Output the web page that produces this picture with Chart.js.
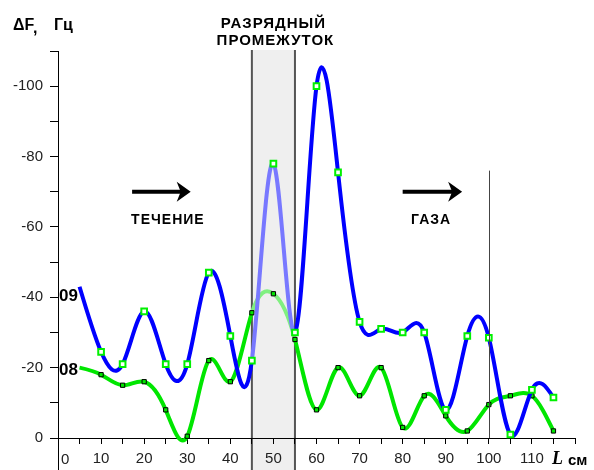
<!DOCTYPE html>
<html>
<head>
<meta charset="utf-8">
<script src="https://cdn.jsdelivr.net/npm/chart.js@4/dist/chart.umd.min.js"></script>
<style>
  html, body { margin: 0; padding: 0; background: #fff; }
  canvas { display: block; }
</style>
</head>
<body>
<canvas id="c" width="594" height="470"></canvas>
<script>
// Distance along the tube, cm
const positions = [5, 10, 15, 20, 25, 30, 35, 40, 45, 50, 55, 60, 65, 70, 75, 80, 85, 90, 95, 100, 105, 110, 115];
// Frequency shift ΔF, Hz, for runs 09 and 08
const run09 = [-43, -24.5, -21, -36, -21, -21, -47, -29, -22, -78, -30, -100, -75.5, -33, -31, -30, -30, -8, -29, -28.5, -1, -13.7, -11.5];
const run08 = [-20, -18, -15, -16, -8, -0.5, -22, -16, -35.6, -41, -28, -8, -20, -12, -20, -3, -12, -6.3, -2, -9.5, -12, -12, -2];
const seriesNames = ['09', '08'];
// Discharge gap and the end marker on the distance axis
const gapRange = [45, 55];
const endMarker = 100;
const xTickLabels = [10, 20, 30, 40, 50, 60, 70, 80, 90, 100, 110];
const yTickLabels = [-100, -80, -60, -40, -20, 0];

const FONT = '"Liberation Sans", Arial, sans-serif';
const BLUE = '#0000ff', BLUE_LIGHT = '#7878ff';
const GREEN = '#00e600', GREEN_LIGHT = '#80f080';

const toPoints = vals => vals.map((v, i) => ({ x: positions[i], y: v }));
const inGap = ctx => ctx.p0.parsed.x >= gapRange[0] && ctx.p1.parsed.x <= gapRange[1];
// the first point of each run is the curve start, drawn without a marker
const radii = (r) => positions.map((p, i) => i === 0 ? 0 : r);

// Slopes of a natural cubic spline y(x) through the given knots
function naturalSlopes(xs, ys) {
  const n = xs.length;
  const h = [];
  for (let i = 0; i < n - 1; i++) h.push(xs[i + 1] - xs[i]);
  const M = new Array(n).fill(0);
  const a = [], b = [], c = [], d = [];
  for (let i = 1; i < n - 1; i++) {
    a.push(h[i - 1]);
    b.push(2 * (h[i - 1] + h[i]));
    c.push(h[i]);
    d.push(6 * ((ys[i + 1] - ys[i]) / h[i] - (ys[i] - ys[i - 1]) / h[i - 1]));
  }
  const m = b.length;
  for (let i = 1; i < m; i++) {
    const w = a[i] / b[i - 1];
    b[i] -= w * c[i - 1];
    d[i] -= w * d[i - 1];
  }
  const sol = new Array(m).fill(0);
  for (let i = m - 1; i >= 0; i--) sol[i] = (d[i] - (i < m - 1 ? c[i] * sol[i + 1] : 0)) / b[i];
  for (let i = 0; i < m; i++) M[i + 1] = sol[i];
  const slopes = [];
  for (let i = 0; i < n; i++) {
    if (i < n - 1) slopes.push((ys[i + 1] - ys[i]) / h[i] - h[i] * (2 * M[i] + M[i + 1]) / 6);
    else slopes.push((ys[i] - ys[i - 1]) / h[i - 1] + h[i - 1] * (M[i - 1] + 2 * M[i]) / 6);
  }
  return slopes;
}

// Replace the line's Bézier control points with those of a natural spline
const naturalSpline = {
  id: 'naturalSpline',
  beforeDatasetDraw(chart, args) {
    const meta = args.meta;
    const line = meta.dataset;
    const pts = meta.data;
    if (!line || pts.length < 3) return;
    line.updateControlPoints(chart.chartArea, 'x');
    const xs = pts.map(p => p.parsed ? p.parsed.x : null);
    const data = chart.data.datasets[args.index].data;
    const X = data.map(d => d.x), Y = data.map(d => d.y);
    const s = naturalSlopes(X, Y);
    const sx = chart.scales.x, sy = chart.scales.y;
    for (let i = 0; i < pts.length; i++) {
      const p = pts[i];
      if (i > 0) {
        const hp = (X[i] - X[i - 1]) / 3;
        p.cp1x = sx.getPixelForValue(X[i] - hp);
        p.cp1y = sy.getPixelForValue(Y[i] - s[i] * hp);
      }
      if (i < pts.length - 1) {
        const hn = (X[i + 1] - X[i]) / 3;
        p.cp2x = sx.getPixelForValue(X[i] + hn);
        p.cp2y = sy.getPixelForValue(Y[i] + s[i] * hn);
      }
    }
  }
};

const decor = {
  id: 'decor',
  beforeDraw(chart) {
    const { ctx, chartArea: a, scales: { x } } = chart;
    ctx.save();
    ctx.fillStyle = '#fff';
    ctx.fillRect(0, 0, chart.width, chart.height);
    const x0 = x.getPixelForValue(gapRange[0]);
    const x1 = x.getPixelForValue(gapRange[1]);
    ctx.fillStyle = '#efefef';
    ctx.fillRect(x0, a.top - 1, x1 - x0, chart.height - a.top + 1);
    ctx.strokeStyle = '#555';
    ctx.lineWidth = 2;
    ctx.beginPath();
    ctx.moveTo(x0, a.top - 1); ctx.lineTo(x0, chart.height);
    ctx.moveTo(x1, a.top - 1); ctx.lineTo(x1, chart.height);
    ctx.stroke();
    ctx.restore();
  },
  afterDraw(chart) {
    const { ctx, chartArea: a, scales: { x, y } } = chart;
    ctx.save();
    // axis extensions
    ctx.strokeStyle = '#000';
    ctx.lineWidth = 1;
    ctx.beginPath();
    ctx.moveTo(a.left + 0.5, a.bottom); ctx.lineTo(a.left + 0.5, chart.height);
    ctx.moveTo(a.left - 8, a.bottom + 0.5); ctx.lineTo(a.left, a.bottom + 0.5);
    ctx.stroke();
    // end marker line
    const xe = Math.round(x.getPixelForValue(endMarker)) + 0.5;
    ctx.strokeStyle = '#444';
    ctx.beginPath();
    ctx.moveTo(xe, y.getPixelForValue(-76)); ctx.lineTo(xe, a.bottom);
    ctx.stroke();

    // first x label sits just right of the axis
    ctx.fillStyle = '#222';
    ctx.font = '15px ' + FONT;
    ctx.textAlign = 'left';
    ctx.textBaseline = 'middle';
    ctx.fillText('0', x.getPixelForValue(0) + 3, 460);
    // axis names
    ctx.font = 'bold italic 18px "Liberation Serif", serif';
    ctx.fillStyle = '#000';
    ctx.fillText('L', 552, 459);
    ctx.font = 'bold 15px ' + FONT;
    ctx.fillText('см', 568, 461);
    ctx.font = 'bold 16px ' + FONT;
    ctx.textBaseline = 'alphabetic';
    ctx.fillText('ΔF', 13, 30);
    ctx.fillText(',', 33, 33);
    ctx.fillText('Гц', 54, 30);

    // run names at the curve starts
    ctx.font = 'bold 17px ' + FONT;
    ctx.textBaseline = 'middle';
    ctx.fillText(seriesNames[0], 59, y.getPixelForValue(-40.5) + 1);
    ctx.fillText(seriesNames[1], 59, y.getPixelForValue(-19.5) + 1);

    // gap caption
    ctx.font = 'bold 15px ' + FONT;
    ctx.letterSpacing = '1px';
    ctx.textAlign = 'center';
    const xc = (x.getPixelForValue(gapRange[0]) + x.getPixelForValue(gapRange[1])) / 2;
    ctx.fillText('РАЗРЯДНЫЙ', xc, 24);
    ctx.fillText('ПРОМЕЖУТОК', xc + 2, 41);

    // flow arrows and captions
    const arrow = (xa, xb, yv) => {
      const x0 = x.getPixelForValue(xa), x1 = x.getPixelForValue(xb), yy = y.getPixelForValue(yv);
      ctx.lineWidth = 4;
      ctx.strokeStyle = '#000';
      ctx.beginPath();
      ctx.moveTo(x0, yy); ctx.lineTo(x1 - 8, yy);
      ctx.stroke();
      ctx.beginPath();
      ctx.moveTo(x1, yy);
      ctx.lineTo(x1 - 14, yy - 10);
      ctx.lineTo(x1 - 10, yy);
      ctx.lineTo(x1 - 14, yy + 10);
      ctx.closePath();
      ctx.fill();
    };
    arrow(17.2, 30.8, -70);
    arrow(80, 93.8, -70);
    ctx.font = 'bold 14px ' + FONT;
    ctx.letterSpacing = '1px';
    ctx.fillText('ТЕЧЕНИЕ', x.getPixelForValue(25.5), y.getPixelForValue(-62));
    ctx.fillText('ГАЗА', x.getPixelForValue(86.6), y.getPixelForValue(-62));
    ctx.restore();
  }
};

new Chart(document.getElementById('c'), {
  type: 'line',
  data: {
    datasets: [
      {
        label: seriesNames[0],
        data: toPoints(run09),
        borderColor: BLUE,
        borderWidth: 4,
        tension: 0.4,
        pointStyle: 'rect',
        pointRadius: radii(4),
        pointBackgroundColor: '#fff',
        pointBorderColor: '#00f000',
        pointBorderWidth: 2,
        segment: { borderColor: c => inGap(c) ? BLUE_LIGHT : undefined },
        clip: false
      },
      {
        label: seriesNames[1],
        data: toPoints(run08),
        borderColor: GREEN,
        borderWidth: 4,
        tension: 0.4,
        pointStyle: 'rect',
        pointRadius: radii(3),
        pointBackgroundColor: GREEN,
        pointBorderColor: '#000',
        pointBorderWidth: 1,
        segment: { borderColor: c => inGap(c) ? GREEN_LIGHT : undefined },
        clip: false
      }
    ]
  },
  options: {
    responsive: false,
    animation: false,
    events: [],
    elements: { line: { capBezierPoints: false } },
    layout: { padding: { top: 51, right: 19, left: 0, bottom: 0 } },
    plugins: { legend: { display: false }, tooltip: { enabled: false } },
    scales: {
      x: {
        type: 'linear', min: 0, max: 120,
        afterFit: s => { s.height = 32; },
        ticks: {
          stepSize: 5, autoSkip: false, maxRotation: 0,
          callback: v => xTickLabels.includes(v) ? String(v) : '',
          font: { family: FONT, size: 15 }, color: '#222', padding: 6
        },
        grid: { drawOnChartArea: false, drawTicks: true, tickLength: 6, color: '#000' },
        border: { color: '#000', width: 1 }
      },
      y: {
        type: 'linear', min: -110, max: 0, reverse: true,
        afterFit: s => { s.width = 58; },
        ticks: {
          stepSize: 10, autoSkip: false,
          callback: v => yTickLabels.includes(v) ? String(v) : '',
          font: { family: FONT, size: 15 }, color: '#222', padding: 7
        },
        grid: { drawOnChartArea: false, drawTicks: true, tickLength: 8, color: '#000' },
        border: { color: '#000', width: 1 }
      }
    }
  },
  plugins: [naturalSpline, decor]
});
</script>
</body>
</html>
